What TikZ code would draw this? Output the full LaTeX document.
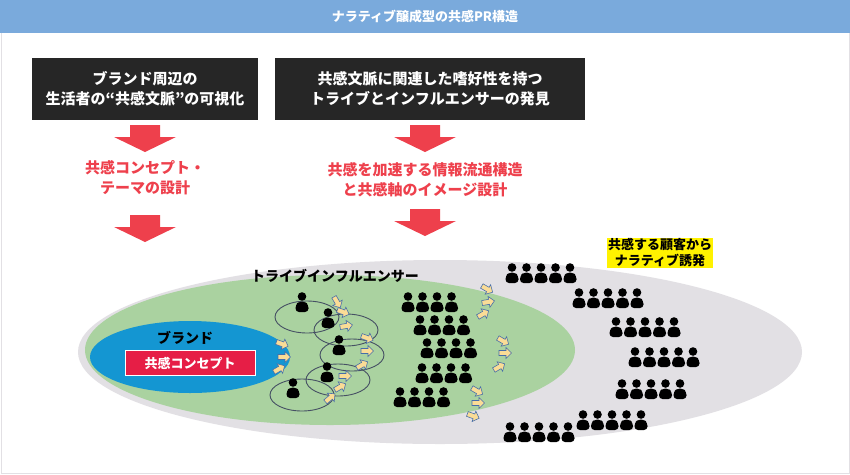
\documentclass[tikz,border=0pt]{standalone}
\usepackage{fontspec}
\setmainfont{Noto Sans CJK JP}
\usetikzlibrary{positioning}
\definecolor{hdc}{RGB}{122,170,220}
\definecolor{boxc}{RGB}{38,38,38}
\definecolor{redc}{RGB}{238,64,76}
\definecolor{greyc}{RGB}{226,224,228}
\definecolor{grnc}{RGB}{170,210,160}
\definecolor{bluec}{RGB}{20,150,210}
\definecolor{concc}{RGB}{230,30,70}
\definecolor{yarc}{RGB}{250,220,150}
\definecolor{yarb}{RGB}{70,110,170}
\definecolor{ringc}{RGB}{70,80,100}

\begin{document}
\begin{tikzpicture}[x=1pt, y=-1pt, node distance=6pt,
  darkbox/.style={rectangle, fill=boxc, text=white, font=\bfseries\fontsize{15}{20}\selectfont, align=center, inner sep=0pt},
  redarrow/.pic={\fill[redc] (-15,-13) -- (15,-13) -- (15,-1) -- (31,-1) -- (0,14) -- (-31,-1) -- (-15,-1) -- cycle;},
  redtext/.style={text=redc, font=\bfseries\fontsize{15}{20}\selectfont, align=center},
  smallarr/.pic={\filldraw[fill=yarc, draw=yarb, line width=0.6pt] (-6,-2.5) -- (1,-2.5) -- (1,-5.5) -- (6.5,0) -- (1,5.5) -- (1,2.5) -- (-6,2.5) -- cycle;},
  ring/.style={draw=ringc, line width=0.9pt},
  person/.pic={\fill (0,-5.5) circle (4.3pt); \fill[rounded corners=3.5pt] (-6.5,10) -- (-6.5,2.5) -- (-2.5,-0.5) -- (2.5,-0.5) -- (6.5,2.5) -- (6.5,10) -- cycle;}]

  \useasboundingbox (0,0) rectangle (850,474);
  \fill[white] (0,0) rectangle (850,474);
  \draw[greyc] (1,1) rectangle (849,473);

  % header
  \fill[hdc] (0,0) rectangle (850,33);
  \node[text=white, font=\bfseries\fontsize{13}{15}\selectfont] (title) at (425,17) {ナラティブ醸成型の共感PR構造};

  % top boxes
  \node[darkbox, minimum width=226pt, minimum height=62pt] (b1) at (145,89) {ブランド周辺の\\生活者の“共感文脈”の可視化};
  \node[darkbox, minimum width=310pt, minimum height=62pt] (b2) at (430,89) {共感文脈に関連した嗜好性を持つ\\トライブとインフルエンサーの発見};

  \pic at (145,138) {redarrow};
  \pic at (425,138) {redarrow};
  \node[redtext] (t1) at (145,178) {共感コンセプト・\\テーマの設計};
  \node[redtext] (t2) at (425,180) {共感を加速する情報流通構造\\と共感軸のイメージ設計};
  \pic at (145,228) {redarrow};
  \pic at (425,222) {redarrow};

  % layers
  \fill[greyc] (440,352) ellipse [x radius=362, y radius=92];
  \fill[grnc] (330,350) ellipse [x radius=245, y radius=75];
  \fill[bluec] (190,357) ellipse [x radius=100, y radius=36];
  \node[font=\bfseries\fontsize{14}{16}\selectfont] (brand) at (185,338) {ブランド};
  \node[fill=concc, draw=white, line width=1pt, text=white, font=\bfseries\fontsize{13}{15}\selectfont, minimum width=130pt, minimum height=25pt] (concept) at (190,363) {共感コンセプト};
  \node[font=\bfseries\fontsize{14}{16}\selectfont] (tribe) at (335,276) {トライブインフルエンサー};
  \node[fill=yellow, font=\bfseries\fontsize{13}{16}\selectfont, align=center, inner sep=1pt] (cust) at (660,253) {共感する顧客から\\ナラティブ誘発};

  % influencer rings
  \foreach \cx/\cy in {307/317, 346/330, 352/355, 338/380, 302/395}
    \draw[ring] (\cx,\cy) ellipse [x radius=32, y radius=16];
  \foreach \px/\py in {302/302, 328/318, 339/345, 327/372, 293/388}
    \pic[black] at (\px,\py) {person};

  % small arrows
  \foreach \ax/\ay/\r in {337/302/-60, 343/312/-20, 346/326/10, 367/338/-20, 367/351/0, 362/365/30,
      345/376/0, 340/387/30, 330/398/40, 282/344/-20, 284/357/0, 279/369/30,
      487/289/-30, 488/302/10, 483/314/30, 503/341/-30, 505/353/0, 499/367/30,
      477/391/-30, 478/403/0, 473/416/-20}
    \pic[rotate=\r] at (\ax,\ay) {smallarr};

  % crowd in green
  \foreach \sx/\sy in {408/302, 420/325, 427/348, 422/373, 400/397}
    \foreach \i in {0,...,3}
      \pic[black] at (\sx+\i*14.5,\sy) {person};

  % crowd in grey
  \foreach \sx/\sy in {512/273, 579/298, 616/327, 635/357, 622/389, 583/420, 510/432}
    \foreach \i in {0,...,4}
      \pic[black] at (\sx+\i*14.5,\sy) {person};

\end{tikzpicture}
\end{document}
